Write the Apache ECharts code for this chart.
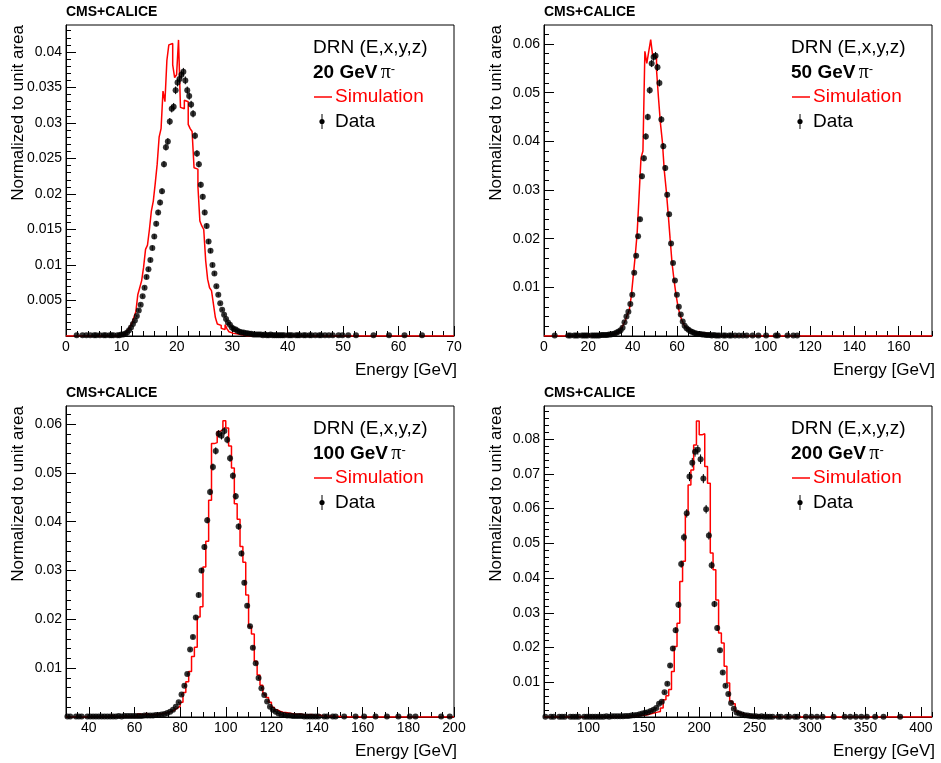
<!DOCTYPE html>
<html><head><meta charset="utf-8">
<script src="https://cdn.jsdelivr.net/npm/echarts@6/dist/echarts.min.js"></script>
<style>html,body{margin:0;padding:0;background:#fff}#c{width:941px;height:763px}</style>
</head><body><div id="c"></div>
<script>
// ================= DATA =================
// Panel 1: 20 GeV pi-, 200 bins of 0.35 GeV from 0
const p1Title = '20 GeV';
const p1BinStart = 0, p1BinWidth = 0.35, p1Bins = 200, p1Events = 120000;
const p1Sim = [0,0,0,0,0,0,0,0,0,0, 0,0,0,0,0,0,0,0,0,0, 0,0,0,0,0,0,0,0,.0001,.0002,
.0004,.0006,.0009,.0013,.0018,.0026,.0034,.0058,.0068,.0078,
.0097,.0122,.0128,.0150,.0176,.0190,.0215,.0242,.0280,.0292,
.0345,.0330,.0388,.0410,.0412,.0382,.0364,.0368,.0417,.0322,
.0320,.0332,.0330,.0298,.0292,.0288,.0237,.0235,.0211,.0162,
.0155,.0150,.0106,.0080,.0068,.0064,.0045,.0026,.0017,.0015,
.0011,.0009,.0016,.0010,.0006,.0004,.0003,.0003,.0002,.0002,
.0002,.0001,.0001,0,.0001,0,0,0,0,0, .0001];
const p1Data = [0,0,0,0,0,.0001,0,0,.0001,0,
.0001,0,.0001,0,.0001,.0001,0,.0001,0,.0001,
.0001,0,.0001,.0001,.0001,0,.0001,.0001,.0002,.0002,
.0003,.0005,.0008,.0012,.0017,.0022,.0028,.0036,.0044,.0056,
.0068,.0083,.0094,.0107,.0124,.0140,.0158,.0174,.0188,.0204,
.0242,.0266,.0274,.0302,.0320,.0323,.0346,.0357,.0362,.0368,
.0372,.0360,.0346,.0338,.0326,.0313,.0282,.0257,.0242,.0213,
.0196,.0174,.0155,.0133,.0120,.0100,.0088,.0070,.0058,.0046,
.0037,.0030,.0024,.0019,.0016,.0012,.0010,.0009,.0007,.0006,
.0005,.0005,.0004,.0004,.0003,.0003,.0002,.0002,.0002,.0002,
.0002,.0001,.0002,.0001,.0001,.0002,.0001,.0001,.0001,.0001,
.0001,.0001,.0001,0,.0001,.0001,.0001,0,.0001,.0001,
.0001,0,.0001,.0001,0,.0001,.0001,0,.0001,0,
.0001,.0001,0,.0001,0,.0001,0,.0001,0,0,
.0001,0,.0001,0,0,.0001,0,0,0,.0001,
0,0,0,0,0,0,0,0,.0001,0,
0,0,0,0,0,0,.0001,0,0,0,
0,0,0,0,.0001,0,0,0,0,0,
0,0,0,.0001];
const p1XTicks = [0,10,20,30,40,50,60,70];
const p1YTicks = [0.005,0.01,0.015,0.02,0.025,0.03,0.035,0.04];

// Panel 2: 50 GeV pi-, 200 bins of 0.875 GeV from 0
const p2Title = '50 GeV';
const p2BinStart = 0, p2BinWidth = 0.875, p2Bins = 200, p2Events = 100000;
const p2Sim = [0,0,0,0,0,0,0,0,0,0, 0,0,0,0,0,0,0,0,0,0, 0,0,0,0,0,0,0,0,0,0,
.0001,.0001,.0002,.0002,.0003,.0004,.0005,.0006,.0009,.0012,
.0017,.0024,.0033,.0044,.0054,.0082,.0123,.0164,.0210,.0287,
.0366,.0380,.0585,.0560,.0585,.0609,.0576,.0575,.0547,.0490,
.0438,.0400,.0340,.0300,.0252,.0200,.0150,.0116,.0086,.0062,
.0045,.0033,.0024,.0018,.0014,.0011,.0009,.0007,.0006,.0005,
.0004,.0006,.0003,.0005,.0002,.0002,.0002,.0001,.0001,.0001,
.0001,0,.0001];
const p2Data = [0,0,0,0,0,.0001,0,0,0,0,
0,0,.0001,.0001,0,.0001,.0001,.0001,0,.0001,
.0001,.0001,.0001,0,.0001,.0001,.0001,.0001,.0001,.0002,
.0002,.0002,.0002,.0003,.0003,.0004,.0005,.0007,.0009,.0012,
.0017,.0028,.0040,.0050,.0066,.0085,.0130,.0165,.0205,.0240,
.0328,.0365,.0410,.0450,.0505,.0560,.0573,.0576,.0552,.0520,
.0445,.0390,.0345,.0290,.0250,.0190,.0150,.0114,.0085,.0060,
.0044,.0030,.0021,.0016,.0013,.0010,.0008,.0006,.0005,.0004,
.0004,.0003,.0003,.0002,.0002,.0002,.0001,.0002,.0001,.0001,
.0001,0,.0001,.0001,0,.0001,.0001,0,.0001,0,
.0001,0,.0001,0,.0001,0,0,.0001,0,0,
.0001,0,0,0,.0001,0,0,0,0,.0001,
.0001,0,0,0,0,.0001,0,0,.0001,0,
.0001];
const p2XTicks = [0,20,40,60,80,100,120,140,160];
const p2YTicks = [0.01,0.02,0.03,0.04,0.05,0.06];

// Panel 3: 100 GeV pi-, 136 bins of 1.25 GeV from 30
const p3Title = '100 GeV';
const p3BinStart = 30, p3BinWidth = 1.25, p3Bins = 136, p3Events = 100000;
const p3Sim = [0,0,0,.0001,0,0,0,0,.0001,0,
0,0,.0001,0,0,.0004,.0001,0,0,0,
.0002,0,.0001,0,0,.0006,.0004,.0007,.0005,.0004,
.0005,.0005,.0006,.0007,.0008,.0010,.0011,.0014,.0018,.0022,
.0030,.0050,.0072,.0093,.0124,.0143,.0205,.0226,.0307,.0360,
.0444,.0560,.0562,.0585,.0588,.0607,.0592,.0555,.0510,.0437,
.0405,.0349,.0317,.0250,.0185,.0170,.0114,.0086,.0065,.0047,
.0040,.0030,.0020,.0015,.0012,.0010,.0009,.0008,.0007,.0006,
.0005,.0006,.0005,.0004,.0004,.0005,.0003,.0003,.0004,.0002,
.0002,.0001,.0002,.0001,.0001,.0001,0,.0001,0,0,
0,.0001];
const p3Data = [.0001,.0001,0,.0001,.0001,.0001,0,.0001,.0001,.0001,
.0001,.0001,.0001,.0001,.0001,.0001,.0001,.0001,.0002,.0001,
.0002,.0002,.0002,.0002,.0002,.0002,.0002,.0003,.0003,.0003,
.0003,.0004,.0004,.0005,.0006,.0008,.0011,.0015,.0021,.0030,
.0046,.0064,.0088,.0138,.0164,.0204,.0250,.0300,.0348,.0403,
.0461,.0512,.0545,.0580,.0576,.0586,.0568,.0530,.0494,.0452,
.0390,.0335,.0275,.0228,.0186,.0142,.0110,.0080,.0059,.0045,
.0032,.0021,.0015,.0011,.0007,.0005,.0004,.0003,.0003,.0002,
.0002,.0002,.0002,.0001,.0001,.0001,.0001,.0001,.0001,0,
.0001,.0001,0,.0001,.0001,0,0,.0001,0,0,
0,.0001,0,0,.0001,0,0,0,.0001,0,
0,0,.0001,0,0,0,.0001,0,0,0,
.0001,0,.0001,0,0,0,0,0,0,0,
0,.0001,0,0,.0001];
const p3XTicks = [40,60,80,100,120,140,160,180,200];
const p3YTicks = [0.01,0.02,0.03,0.04,0.05,0.06];

// Panel 4: 200 GeV pi-, 140 bins of 2.5 GeV from 60
const p4Title = '200 GeV';
const p4BinStart = 60, p4BinWidth = 2.5, p4Bins = 140, p4Events = 40000;
const p4Sim = [0,0,0,0,0,0,0,0,0,0,
.0001,0,0,0,0,0,0,0,.0001,0,
0,0,0,0,0,.0001,0,0,.0001,.0002,
.0002,.0003,.0003,.0004,.0005,.0005,.0006,.0008,.0010,.0012,
.0014,.0016,.0026,.0050,.0061,.0079,.0131,.0203,.0270,.0390,
.0448,.0582,.0668,.0711,.0783,.0852,.0812,.0815,.0721,.0673,
.0472,.0424,.0337,.0242,.0213,.0146,.0098,.0045,.0038,.0016,
.0012,.0008,.0006,.0005,.0004,.0003,.0003,.0002,.0002,.0001,
.0002,.0001,.0001,.0001];
const p4Data = [.0001,0,.0001,.0001,0,.0001,.0001,.0001,0,.0001,
.0001,.0001,.0001,0,.0001,.0001,.0001,.0001,.0001,.0001,
.0001,.0001,.0002,.0001,.0002,.0002,.0002,.0002,.0002,.0003,
.0003,.0004,.0005,.0006,.0008,.0010,.0012,.0014,.0017,.0021,
.0026,.0038,.0044,.0071,.0096,.0148,.0197,.0250,.0323,.0440,
.0517,.0586,.0692,.0732,.0763,.0769,.0742,.0686,.0598,.0522,
.0437,.0325,.0256,.0192,.0128,.0090,.0066,.0040,.0024,.0013,
.0010,.0007,.0005,.0004,.0003,.0002,.0002,.0001,.0002,.0001,
.0001,.0001,.0001,0,.0001,.0001,0,.0001,.0001,0,
.0001,.0001,0,0,.0001,0,.0001,0,.0001,0,
.0001,0,0,0,.0001,0,0,0,.0001,0,
.0001,0,.0001,0,.0001,0,.0001,0,0,.0001,
0,0,.0001,0,0,0,0,0,.0001];
const p4XTicks = [100,150,200,250,300,350,400];
const p4YTicks = [0.01,0.02,0.03,0.04,0.05,0.06,0.07,0.08];

const experimentLabel = 'CMS+CALICE';
const modelLabel = 'DRN (E,x,y,z)';
const simLabel = 'Simulation';
const dataLabel = 'Data';
const xTitle = 'Energy [GeV]';
const yTitle = 'Normalized to unit area';

// ================= LAYOUT =================
const FONT = '"Liberation Sans", Arial, Helvetica, sans-serif';
const W = 388, H = 311;
const panels = [
  {sim:p1Sim, data:p1Data, x0:p1BinStart, w:p1BinWidth, n:p1Bins, ev:p1Events, title:p1Title,
   xMin:0, xMax:70, xTicks:p1XTicks, xMinor:2, yMax:0.0438, yTicks:p1YTicks, yMinor:0.001, left:66, top:25},
  {sim:p2Sim, data:p2Data, x0:p2BinStart, w:p2BinWidth, n:p2Bins, ev:p2Events, title:p2Title,
   xMin:0, xMax:175, xTicks:p2XTicks, xMinor:5, yMax:0.0639, yTicks:p2YTicks, yMinor:0.002, left:544, top:25},
  {sim:p3Sim, data:p3Data, x0:p3BinStart, w:p3BinWidth, n:p3Bins, ev:p3Events, title:p3Title,
   xMin:30, xMax:200, xTicks:p3XTicks, xMinor:5, yMax:0.0637, yTicks:p3YTicks, yMinor:0.002, left:66, top:406},
  {sim:p4Sim, data:p4Data, x0:p4BinStart, w:p4BinWidth, n:p4Bins, ev:p4Events, title:p4Title,
   xMin:60, xMax:410, xTicks:p4XTicks, xMinor:10, yMax:0.0895, yTicks:p4YTicks, yMinor:0.002, left:544, top:406}
];

function steps(a, b, s) {
  const out = [];
  const n = Math.round((b - a) / s);
  for (let k = 0; k <= n; k++) {
    const v = Math.round((a + k * s) * 1e6) / 1e6;
    if (v <= b + 1e-9) out.push(v);
  }
  return out;
}
const fmt = v => String(parseFloat(Number(v).toFixed(5)));

const grid = [], xAxis = [], yAxis = [], series = [], graphic = [];
const tickLine = {color:'#000', width:1};

panels.forEach((p, k) => {
  grid.push({left:p.left, top:p.top, width:W, height:H, show:true, borderColor:'#000', borderWidth:1, backgroundColor:'transparent'});
  xAxis[k] = {gridIndex:k, type:'value', min:p.xMin, max:p.xMax, position:'bottom',
    axisLine:{show:true, onZero:false, lineStyle:{color:'#000', width:1}},
    axisTick:{show:true, inside:true, length:10, customValues:p.xTicks, lineStyle:tickLine},
    axisLabel:{show:true, customValues:p.xTicks, margin:4, color:'#000', fontSize:14, fontFamily:FONT, formatter:fmt},
    splitLine:{show:false}};
  xAxis[k + 4] = {gridIndex:k, type:'value', min:p.xMin, max:p.xMax, position:'bottom',
    axisLine:{show:false}, axisLabel:{show:false}, splitLine:{show:false},
    axisTick:{show:true, inside:true, length:5, customValues:steps(p.xMin, p.xMax, p.xMinor), lineStyle:tickLine}};
  yAxis[k] = {gridIndex:k, type:'value', min:0, max:p.yMax, position:'left',
    axisLine:{show:true, onZero:false, lineStyle:{color:'#000', width:1}},
    axisTick:{show:true, inside:true, length:10, customValues:p.yTicks, lineStyle:tickLine},
    axisLabel:{show:true, customValues:p.yTicks, margin:4, color:'#000', fontSize:14, fontFamily:FONT, formatter:fmt},
    splitLine:{show:false}};
  yAxis[k + 4] = {gridIndex:k, type:'value', min:0, max:p.yMax, position:'left',
    axisLine:{show:false}, axisLabel:{show:false}, splitLine:{show:false},
    axisTick:{show:true, inside:true, length:5, customValues:steps(0, p.yMax, p.yMinor), lineStyle:tickLine}};

  // simulation histogram outline
  const simPts = [];
  for (let i = 0; i < p.n; i++) simPts.push([p.x0 + i * p.w, p.sim[i] || 0]);
  simPts.push([p.x0 + p.n * p.w, p.sim[p.n - 1] || 0]);
  series.push({type:'line', xAxisIndex:k, yAxisIndex:k, data:simPts, step:'end', symbol:'none',
    lineStyle:{color:'#ff0000', width:1.5}, itemStyle:{color:'#ff0000'}, clip:true, z:2, silent:true});

  // data points with statistical error bars
  const dPts = [];
  for (let i = 0; i < p.n; i++) {
    const v = p.data[i] || 0;
    if (v > 0) dPts.push([p.x0 + (i + 0.5) * p.w, v, Math.sqrt(v / p.ev)]);
  }
  series.push({type:'custom', xAxisIndex:k, yAxisIndex:k, data:dPts, dimensions:['x','y','e'], encode:{x:0, y:1},
    clip:true, z:3, silent:true,
    renderItem:(params, api) => {
      const x = api.value(0), y = api.value(1), e = api.value(2);
      const a = api.coord([x, y - e]), b = api.coord([x, y + e]);
      return {type:'line', shape:{x1:a[0], y1:a[1], x2:b[0], y2:b[1]}, style:{stroke:'#000', lineWidth:1}};
    }});
  series.push({type:'scatter', xAxisIndex:k, yAxisIndex:k, data:dPts.map(d => [d[0], d[1]]),
    symbol:'circle', symbolSize:6, itemStyle:{color:'#000'}, z:4, clip:true, silent:true});

  // texts
  const L = p.left, T = p.top;
  graphic.push({type:'text', x:L, y:T - 13, style:{text:experimentLabel, font:'bold 14px ' + FONT, fill:'#000', verticalAlign:'middle'}});
  const lx = L + 247, ly = T + 23;
  graphic.push({type:'text', x:lx, y:ly, style:{text:modelLabel, font:'19px ' + FONT, fill:'#000', verticalAlign:'middle'}});
  graphic.push({type:'text', x:lx, y:ly + 24.5, style:{
    text:'{b|' + p.title + '} {p|π}{s|-}', verticalAlign:'middle',
    rich:{b:{font:'bold 19px ' + FONT, fill:'#000'}, p:{font:'20px "Liberation Serif", serif', fill:'#000'},
          s:{font:'13px ' + FONT, fill:'#000', verticalAlign:'top'}}}});
  graphic.push({type:'line', shape:{x1:lx + 1, y1:ly + 49, x2:lx + 19, y2:ly + 49}, style:{stroke:'#ff0000', lineWidth:1.5}});
  graphic.push({type:'text', x:lx + 22, y:ly + 49, style:{text:simLabel, font:'19px ' + FONT, fill:'#ff0000', verticalAlign:'middle'}});
  graphic.push({type:'line', shape:{x1:lx + 9, y1:ly + 66, x2:lx + 9, y2:ly + 81}, style:{stroke:'#000', lineWidth:1}});
  graphic.push({type:'circle', shape:{cx:lx + 9, cy:ly + 73.5, r:2.6}, style:{fill:'#000'}});
  graphic.push({type:'text', x:lx + 22, y:ly + 73.5, style:{text:dataLabel, font:'19px ' + FONT, fill:'#000', verticalAlign:'middle'}});
  graphic.push({type:'text', x:L - 48, y:T, rotation:Math.PI / 2, style:{text:yTitle, font:'17px ' + FONT, fill:'#000', align:'right', verticalAlign:'middle'}});
  graphic.push({type:'text', x:L + 391, y:T + 345, style:{text:xTitle, font:'17px ' + FONT, fill:'#000', align:'right', verticalAlign:'middle'}});
});

const chart = echarts.init(document.getElementById('c'), null, {renderer:'canvas'});
chart.setOption({animation:false, backgroundColor:'#fff', grid, xAxis, yAxis, series, graphic});
</script></body></html>
